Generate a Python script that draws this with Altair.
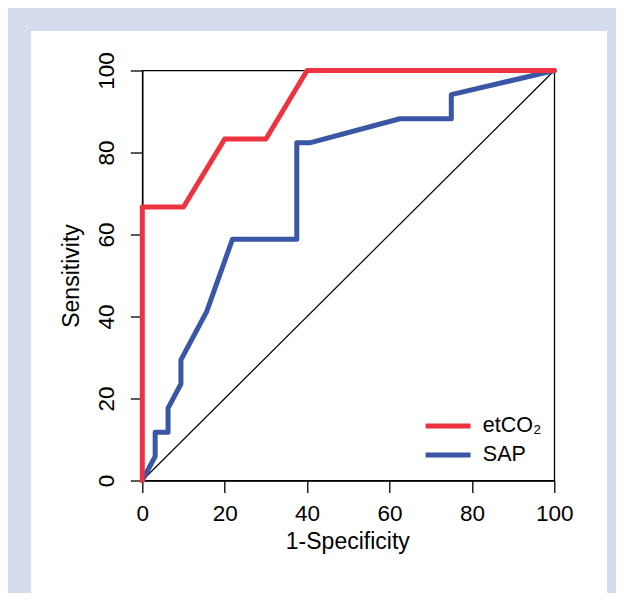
import altair as alt
import pandas as pd

# ---- data ----
series_names = ["etCO\u2082", "SAP"]
series_colors = ["#ee3340", "#3a56a6"]

et_fpr = [0, 0, 10, 20, 30, 40, 100]
et_sens = [0, 66.7, 66.7, 83.3, 83.3, 100, 100]

sap_fpr = [0, 3.125, 3.125, 6.25, 6.25, 9.375, 9.375, 15.625, 21.875,
           37.5, 37.5, 40.625, 62.5, 75, 75, 100]
sap_sens = [0, 5.88, 11.76, 11.76, 17.65, 23.53, 29.41, 41.18, 58.82,
            58.82, 82.35, 82.35, 88.24, 88.24, 94.12, 100]

diag_fpr = [0, 100]
diag_sens = [0, 100]

x_ticks = [0, 20, 40, 60, 80, 100]
y_ticks = [0, 20, 40, 60, 80, 100]

FONT = "Liberation Sans"
FRAME = "#d4dcee"

et_df = pd.DataFrame({"fpr": et_fpr, "sens": et_sens,
                      "series": series_names[0], "idx": range(len(et_fpr))})
sap_df = pd.DataFrame({"fpr": sap_fpr, "sens": sap_sens,
                       "series": series_names[1], "idx": range(len(sap_fpr))})
diag_df = pd.DataFrame({"fpr": diag_fpr, "sens": diag_sens, "idx": [0, 1]})

x_enc = alt.X("fpr:Q", scale=alt.Scale(domain=[0, 100], nice=False),
              axis=alt.Axis(values=x_ticks, title="1-Specificity",
                            labelPadding=27.5, labelBaseline="alphabetic",
                            titleX=205, titleY=67.5, titleAlign="center",
                            titleBaseline="alphabetic"))
y_enc = alt.Y("sens:Q", scale=alt.Scale(domain=[0, 100], nice=False),
              axis=alt.Axis(values=y_ticks, title="Sensitivity",
                            labelAngle=270, labelAlign="center",
                            labelBaseline="alphabetic", labelPadding=17.3,
                            titleX=-63.8, titleY=205, titleAngle=270,
                            titleAlign="center", titleBaseline="alphabetic"))

color_enc = alt.Color(
    "series:N",
    scale=alt.Scale(domain=series_names, range=series_colors),
    legend=alt.Legend(orient="none", legendX=295, legendY=344.7, title=None,
                      symbolType="M-4.5,0H4.5", symbolSize=100,
                      symbolStrokeWidth=5, labelFont=FONT, labelFontSize=21.5,
                      labelColor="black", labelOffset=24, rowPadding=6,
                      padding=0),
)

frame = alt.Chart(pd.DataFrame({"k": [0]})).mark_rect(
    fill="white", fillOpacity=0, stroke=FRAME, strokeWidth=40
).encode(x=alt.value(-131.3), x2=alt.value(484.7),
         y=alt.value(-59.5), y2=alt.value(579.5))

diag = alt.Chart(diag_df).mark_line(color="black", strokeWidth=1.2).encode(
    x=x_enc, y=y_enc, order="idx:Q")

sap = alt.Chart(sap_df).mark_line(strokeWidth=5, strokeCap="round",
                                  strokeJoin="round").encode(
    x=x_enc, y=y_enc, color=color_enc, order="idx:Q")

et = alt.Chart(et_df).mark_line(strokeWidth=5, strokeCap="round",
                                strokeJoin="round").encode(
    x=x_enc, y=y_enc, color=color_enc, order="idx:Q")

chart = alt.layer(frame, diag, sap, et).properties(
    width=412, height=410,
    autosize=alt.AutoSizeParams(type="none"),
    padding={"left": 134.3, "top": 62.5, "right": 61.7, "bottom": 112.5},
    background="white",
).configure_view(
    stroke="black", strokeWidth=1.3
).configure_axis(
    domainColor="black", domainWidth=1.3, tickColor="black", tickWidth=1.3,
    tickSize=12, grid=False, labelFont=FONT, labelFontSize=22.5,
    labelColor="black", titleFont=FONT, titleFontSize=23,
    titleFontWeight="normal", titleColor="black", labelFlush=False,
    labelOverlap=False,
)

chart.save("out.html", embed_options={"renderer": "svg", "actions": False})
